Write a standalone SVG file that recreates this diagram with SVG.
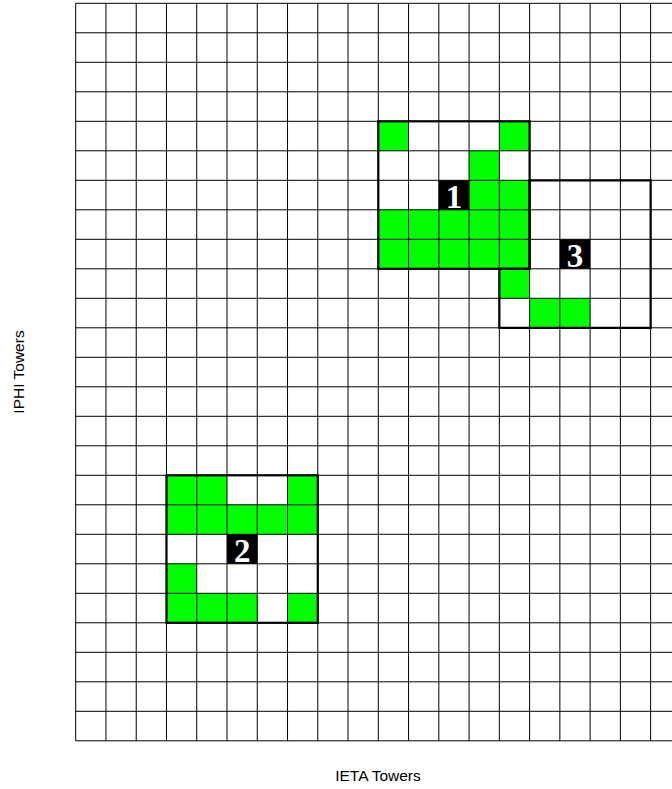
<svg xmlns="http://www.w3.org/2000/svg" width="672" height="789" viewBox="0 0 672 789">
<style>
.on{fill:#00ff00;stroke:none}
.grid{fill:none;stroke:#000;stroke-width:1}
.box{fill:none;stroke:#000;stroke-width:2.2;stroke-linejoin:miter}
.tag{fill:#000}
.num{fill:#fff;font-family:"Liberation Serif",serif;font-weight:bold;font-size:33px;text-anchor:middle}
.axis{fill:#000;font-family:"Liberation Sans",sans-serif;font-size:15.5px;text-anchor:middle}
</style>
<rect width="672" height="789" fill="#fff"/>
<g id="cells">
<rect class="on" x="378.3" y="209.8" width="151.3" height="59"/>
<rect class="on" x="378.3" y="121.3" width="30.26" height="29.5"/>
<rect class="on" x="499.34" y="121.3" width="30.26" height="29.5"/>
<rect class="on" x="469.08" y="150.8" width="30.26" height="29.5"/>
<rect class="on" x="469.08" y="180.3" width="60.52" height="29.5"/>
<rect class="on" x="499.34" y="268.8" width="30.26" height="29.5"/>
<rect class="on" x="529.6" y="298.3" width="60.52" height="29.5"/>
<rect class="on" x="166.48" y="475.3" width="60.52" height="29.5"/>
<rect class="on" x="287.52" y="475.3" width="30.26" height="29.5"/>
<rect class="on" x="166.48" y="504.8" width="151.3" height="29.5"/>
<rect class="on" x="166.48" y="563.8" width="30.26" height="29.5"/>
<rect class="on" x="166.48" y="593.3" width="90.78" height="29.5"/>
<rect class="on" x="287.52" y="593.3" width="30.26" height="29.5"/>
</g>
<g id="grid">
<path class="grid" d="M75.7 3.3V740.8M105.96 3.3V740.8M136.22 3.3V740.8M166.48 3.3V740.8M196.74 3.3V740.8M227 3.3V740.8M257.26 3.3V740.8M287.52 3.3V740.8M317.78 3.3V740.8M348.04 3.3V740.8M378.3 3.3V740.8M408.56 3.3V740.8M438.82 3.3V740.8M469.08 3.3V740.8M499.34 3.3V740.8M529.6 3.3V740.8M559.86 3.3V740.8M590.12 3.3V740.8M620.38 3.3V740.8M650.64 3.3V740.8
M75.7 3.3H672M75.7 32.8H672M75.7 62.3H672M75.7 91.8H672M75.7 121.3H672M75.7 150.8H672M75.7 180.3H672M75.7 209.8H672M75.7 239.3H672M75.7 268.8H672M75.7 298.3H672M75.7 327.8H672M75.7 357.3H672M75.7 386.8H672M75.7 416.3H672M75.7 445.8H672M75.7 475.3H672M75.7 504.8H672M75.7 534.3H672M75.7 563.8H672M75.7 593.3H672M75.7 622.8H672M75.7 652.3H672M75.7 681.8H672M75.7 711.3H672M75.7 740.8H672"/>
</g>
<g id="cluster1">
<rect class="box" x="378.3" y="121.3" width="151.3" height="147.5"/>
<rect class="tag" x="438.82" y="180.3" width="30.26" height="29.5"/>
<text class="num" x="453.95" y="207.5">1</text>
</g>
<g id="cluster3">
<polygon class="box" points="529.6,180.3 650.64,180.3 650.64,327.8 499.34,327.8 499.34,268.8 529.6,268.8"/>
<rect class="tag" x="559.86" y="239.3" width="30.26" height="29.5"/>
<text class="num" x="574.99" y="266.5">3</text>
</g>
<g id="cluster2">
<rect class="box" x="166.48" y="475.3" width="151.3" height="147.5"/>
<rect class="tag" x="227" y="534.3" width="30.26" height="29.5"/>
<text class="num" x="242.13" y="561.5">2</text>
</g>
<g id="axes">
<text class="axis" x="378" y="781">IETA Towers</text>
<text class="axis" transform="translate(24 372) rotate(-90)">IPHI Towers</text>
</g>
</svg>
